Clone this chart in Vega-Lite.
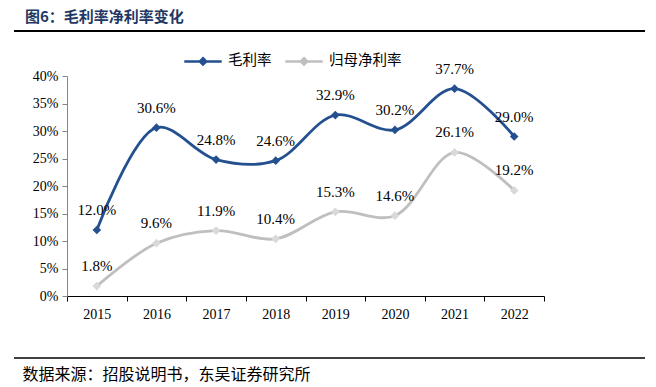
{
  "$schema": "https://vega.github.io/schema/vega-lite/v6.json",
  "width": 477,
  "height": 220,
  "autosize": {"type": "none"},
  "padding": {"left": 67, "top": 76, "right": 112, "bottom": 91},
  "background": "#ffffff",
  "title": {
    "text": "图6：毛利率净利率变化",
    "anchor": "start",
    "frame": "group",
    "orient": "top",
    "dx": -42,
    "offset": 5,
    "font": "Noto Sans CJK SC",
    "fontSize": 15,
    "fontWeight": "bold",
    "color": "#1F3864"
  },
  "config": {
    "view": {"stroke": null},
    "font": "Liberation Serif"
  },
  "data": {
    "values": [
      {"year": "2015", "series": "毛利率", "value": 0.120},
      {"year": "2016", "series": "毛利率", "value": 0.306},
      {"year": "2017", "series": "毛利率", "value": 0.248},
      {"year": "2018", "series": "毛利率", "value": 0.246},
      {"year": "2019", "series": "毛利率", "value": 0.329},
      {"year": "2020", "series": "毛利率", "value": 0.302},
      {"year": "2021", "series": "毛利率", "value": 0.377},
      {"year": "2022", "series": "毛利率", "value": 0.290},
      {"year": "2015", "series": "归母净利率", "value": 0.018},
      {"year": "2016", "series": "归母净利率", "value": 0.096},
      {"year": "2017", "series": "归母净利率", "value": 0.119},
      {"year": "2018", "series": "归母净利率", "value": 0.104},
      {"year": "2019", "series": "归母净利率", "value": 0.153},
      {"year": "2020", "series": "归母净利率", "value": 0.146},
      {"year": "2021", "series": "归母净利率", "value": 0.261},
      {"year": "2022", "series": "归母净利率", "value": 0.192}
    ]
  },
  "encoding": {
    "x": {
      "field": "year",
      "type": "nominal",
      "scale": {"paddingInner": 0, "paddingOuter": 0},
      "axis": {
        "title": "数据来源：招股说明书，东吴证券研究所",
        "titleFont": "Noto Sans CJK SC",
        "titleFontSize": 16,
        "titleFontWeight": "normal",
        "titleColor": "#000000",
        "titleAlign": "left",
        "titleBaseline": "middle",
        "titleX": -45,
        "titleY": 78,
        "labelAngle": 0,
        "labelFont": "Liberation Serif",
        "labelFontSize": 14,
        "labelColor": "#000000",
        "labelPadding": 6,
        "tickBand": "extent",
        "tickSize": 5,
        "tickColor": "#000000",
        "domainColor": "#000000",
        "domainWidth": 1,
        "grid": false
      }
    },
    "y": {
      "field": "value",
      "type": "quantitative",
      "scale": {"domain": [0, 0.4], "nice": false},
      "axis": {
        "title": null,
        "format": ".0%",
        "values": [0, 0.05, 0.1, 0.15, 0.2, 0.25, 0.3, 0.35, 0.4],
        "labelFont": "Liberation Serif",
        "labelFontSize": 14,
        "labelColor": "#000000",
        "labelPadding": 4,
        "tickSize": 5,
        "tickColor": "#868686",
        "domainColor": "#868686",
        "grid": false
      }
    },
    "color": {
      "field": "series",
      "type": "nominal",
      "sort": ["毛利率", "归母净利率"],
      "scale": {"domain": ["毛利率", "归母净利率"], "range": ["#24508F", "#BFBFBF"]},
      "legend": {
        "title": null,
        "orient": "none",
        "direction": "horizontal",
        "legendX": 116,
        "legendY": -35,
        "symbolType": "M-1,0L1,0M0,-0.17L0.17,0L0,0.17L-0.17,0Z",
        "symbolSize": 1400,
        "symbolStrokeWidth": 2.5,
        "labelFont": "Noto Sans CJK SC",
        "labelFontSize": 14.5,
        "labelColor": "#000000",
        "labelOffset": 5,
        "columnPadding": 8
      }
    }
  },
  "layer": [
    {
      "mark": {"type": "rule", "color": "#000000", "strokeWidth": 2, "clip": false},
      "encoding": {
        "x": {"value": -53},
        "x2": {"value": 578},
        "y": {"value": -45},
        "color": null
      },
      "data": {"values": [{}]}
    },
    {
      "mark": {"type": "rule", "color": "#000000", "strokeWidth": 1.5, "clip": false},
      "encoding": {
        "x": {"value": -53},
        "x2": {"value": 578},
        "y": {"value": 282},
        "color": null
      },
      "data": {"values": [{}]}
    },
    {
      "mark": {"type": "line", "interpolate": "catmull-rom", "strokeWidth": 2.8}
    },
    {
      "mark": {"type": "point", "shape": "diamond", "filled": true, "opacity": 1, "size": 75},
      "encoding": {
        "color": {
          "field": "series",
          "type": "nominal",
          "scale": {"domain": ["毛利率", "归母净利率"], "range": ["#24508F", "#BFBFBF"]},
          "legend": null
        },
        "fill": {
          "field": "series",
          "type": "nominal",
          "scale": {"domain": ["毛利率", "归母净利率"], "range": ["#24508F", "#D9D9D9"]},
          "legend": null
        },
        "stroke": {"value": null}
      }
    },
    {
      "mark": {"type": "text", "dy": -20, "font": "Liberation Serif", "fontSize": 15, "color": "#000000"},
      "encoding": {
        "text": {"field": "value", "type": "quantitative", "format": ".1%"},
        "color": null
      }
    }
  ]
}
